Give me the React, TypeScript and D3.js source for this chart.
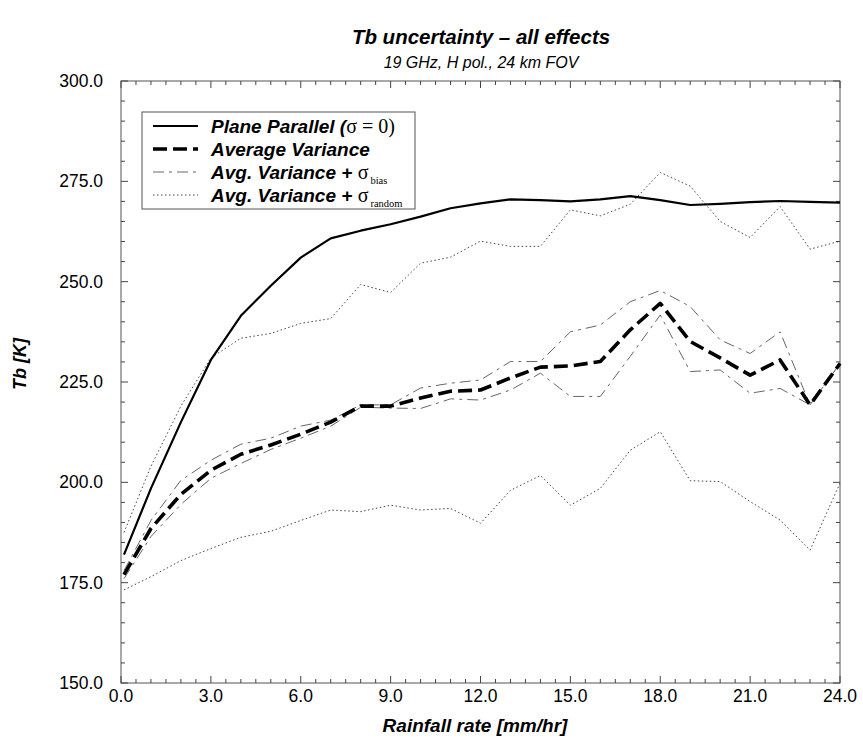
import React from "react";
import * as d3 from "d3";

const rain = [0.1, 1, 2, 3, 4, 5, 6, 7, 8, 9, 10, 11, 12, 13, 14, 15, 16, 17, 18, 19, 20, 21, 22, 23, 24];
const planeParallel = [182, 198.5, 215, 230.5, 241.5, 249, 256, 260.8, 262.7, 264.3, 266.2, 268.3, 269.5, 270.5, 270.3, 270, 270.5, 271.3, 270.3, 269.1, 269.4, 269.8, 270.1, 269.9, 269.7];
const avgVariance = [177, 188.5, 197, 203, 207, 209.3, 212, 215, 219, 219, 221, 222.7, 223, 226, 228.7, 229, 230.1, 238, 244.6, 235.1, 231, 226.7, 230.5, 219.3, 229.6];
const biasUpper = [178, 190.5, 200.5, 205.5, 209.5, 211, 214, 215.5, 219.3, 219.3, 223.5, 224.7, 225.5, 230.1, 230.1, 237.5, 239.2, 245, 247.8, 243.8, 235.5, 232.1, 237.5, 219.3, 229.6];
const biasLower = [176, 186.5, 194.5, 201, 204.7, 208.2, 211, 214, 218.7, 218.5, 218.4, 220.8, 220.5, 223, 227.2, 221.4, 221.4, 231.4, 241.7, 227.6, 228, 222.2, 223.4, 219.3, 229.6];
const randomUpper = [187.5, 204, 219, 231, 235.9, 237.1, 239.6, 240.8, 249.3, 247.3, 254.6, 256.1, 260.1, 258.8, 258.8, 267.9, 266.4, 269.3, 277.2, 273.8, 265, 261, 268.7, 258.1, 260.1];
const randomLower = [173.2, 176.5, 180.5, 183.5, 186.3, 187.8, 190.5, 193.1, 192.7, 194.3, 193.1, 193.5, 189.8, 198, 201.7, 194.3, 198.5, 208, 212.6, 200.4, 200.2, 195.2, 190.6, 183.1, 199.8];

const xTicks = [0, 3, 6, 9, 12, 15, 18, 21, 24];
const yTicks = [150, 175, 200, 225, 250, 275, 300];

const W = 863, H = 744;
const L = 121, R = 840, T = 81, B = 683;

const sans = "'Liberation Sans', Arial, Helvetica, sans-serif";
const narrow = "'Liberation Sans Narrow', 'Liberation Sans', Arial, sans-serif";
const serif = "'Liberation Serif', 'Times New Roman', serif";

export default function App() {
  const x = d3.scaleLinear().domain([0, 24]).range([L, R]);
  const y = d3.scaleLinear().domain([150, 300]).range([B, T]);
  const mk = (vals: number[]) =>
    d3.line<number>().x((_, i) => x(rain[i])).y((v) => y(v))(vals) || "";

  const xMinor = d3.range(0, 24.001, 0.5);
  const yMinor = d3.range(150, 300.001, 5);

  const styles = {
    pp: { stroke: "#000", strokeWidth: 2.2, dash: undefined as string | undefined },
    avg: { stroke: "#000", strokeWidth: 3.6, dash: "14 6" },
    bias: { stroke: "#666", strokeWidth: 1, dash: "11 5 3 5" },
    rnd: { stroke: "#444", strokeWidth: 1, dash: "1.5 2.5" },
  };

  const series = [
    { d: randomLower, s: styles.rnd },
    { d: randomUpper, s: styles.rnd },
    { d: biasLower, s: styles.bias },
    { d: biasUpper, s: styles.bias },
    { d: planeParallel, s: styles.pp },
    { d: avgVariance, s: styles.avg },
  ];

  const legendRows = [
    { s: styles.pp, y: 126 },
    { s: styles.avg, y: 149 },
    { s: styles.bias, y: 172 },
    { s: styles.rnd, y: 195 },
  ];
  const lx = 211;
  const lfont = { fontFamily: sans, fontWeight: 700, fontStyle: "italic", fontSize: 19 } as const;

  return (
    <svg width={W} height={H} style={{ display: "block", position: "absolute", left: 0, top: 0, background: "#fff" }}>
      <rect x={0} y={0} width={W} height={H} fill="#fff" />
      {/* titles */}
      <text x={481} y={44} textAnchor="middle" fontFamily={sans} fontWeight={700} fontStyle="italic" fontSize={20.5}>
        Tb uncertainty – all effects
      </text>
      <text x={481} y={68} textAnchor="middle" fontFamily={sans} fontStyle="italic" fontSize={16}>
        19 GHz, H pol., 24 km FOV
      </text>

      {/* frame */}
      <rect x={L} y={T} width={R - L} height={B - T} fill="none" stroke="#555" strokeWidth={1} />

      {/* minor/major ticks */}
      {xMinor.map((v) => {
        const major = Math.abs(v % 3) < 1e-6;
        const len = major ? 7 : 4;
        return (
          <g key={"xt" + v} stroke="#444" strokeWidth={1}>
            <line x1={x(v)} x2={x(v)} y1={B} y2={B - len} />
            <line x1={x(v)} x2={x(v)} y1={T} y2={T + len} />
          </g>
        );
      })}
      {yMinor.map((v) => {
        const major = Math.abs(v % 25) < 1e-6;
        const len = major ? 7 : 4;
        return (
          <g key={"yt" + v} stroke="#444" strokeWidth={1}>
            <line x1={L} x2={L + len} y1={y(v)} y2={y(v)} />
            <line x1={R} x2={R - len} y1={y(v)} y2={y(v)} />
          </g>
        );
      })}

      {/* tick labels */}
      {yTicks.map((v) => (
        <text key={"yl" + v} x={103} y={y(v)} dy="0.35em" textAnchor="end" fontFamily={sans} fontSize={17.5}>
          {v.toFixed(1)}
        </text>
      ))}
      {xTicks.map((v) => (
        <text key={"xl" + v} x={x(v)} y={B + 19} textAnchor="middle" fontFamily={narrow} fontSize={17.5}>
          {v.toFixed(1)}
        </text>
      ))}

      {/* axis titles */}
      <text x={475} y={B + 49} textAnchor="middle" fontFamily={narrow} fontWeight={700} fontStyle="italic" fontSize={19}>
        Rainfall rate [mm/hr]
      </text>
      <text transform={`translate(26,364) rotate(-90)`} textAnchor="middle" fontFamily={sans} fontWeight={700} fontStyle="italic" fontSize={18}>
        Tb [K]
      </text>

      {/* series */}
      {series.map((ser, i) => (
        <path key={"s" + i} d={mk(ser.d)} fill="none" stroke={ser.s.stroke} strokeWidth={ser.s.strokeWidth}
          strokeDasharray={ser.s.dash} strokeLinejoin="round" />
      ))}

      {/* legend */}
      <rect x={142} y={112} width={273} height={97} fill="#fff" stroke="#555" strokeWidth={1} />
      {legendRows.map((r, i) => (
        <line key={"ll" + i} x1={153} x2={198} y1={r.y} y2={r.y} stroke={r.s.stroke}
          strokeWidth={r.s.strokeWidth} strokeDasharray={r.s.dash} />
      ))}
      <text x={lx} y={126} dy="0.35em" {...lfont}>
        Plane Parallel (<tspan fontFamily={serif} fontStyle="normal" fontWeight={400} fontSize={20}>σ = 0)</tspan>
      </text>
      <text x={lx} y={149} dy="0.35em" {...lfont}>Average Variance</text>
      <text x={lx} y={172} dy="0.35em" {...lfont}>
        Avg. Variance + <tspan fontFamily={serif} fontStyle="normal" fontWeight={400} fontSize={20}>σ</tspan>
        <tspan fontFamily={serif} fontStyle="normal" fontWeight={400} fontSize={10.5} dx={2} dy={5}>bias</tspan>
      </text>
      <text x={lx} y={195} dy="0.35em" {...lfont}>
        Avg. Variance + <tspan fontFamily={serif} fontStyle="normal" fontWeight={400} fontSize={20}>σ</tspan>
        <tspan fontFamily={serif} fontStyle="normal" fontWeight={400} fontSize={10.5} dx={2} dy={5}>random</tspan>
      </text>
    </svg>
  );
}
